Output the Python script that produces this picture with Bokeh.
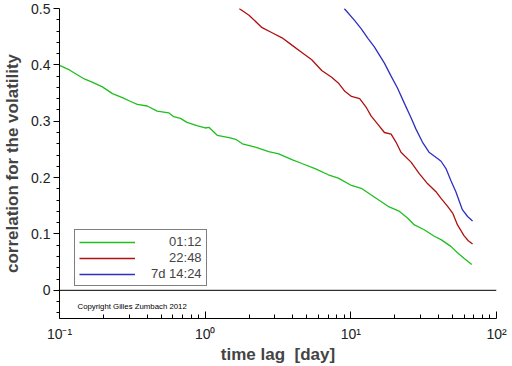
from bokeh.plotting import figure
from bokeh.models import FixedTicker, Span, Legend, LegendItem, Label
from bokeh.embed import file_html
from bokeh.resources import INLINE

# ---- data ----
green_x = [0.1, 0.117, 0.148, 0.169, 0.197, 0.231, 0.270, 0.308, 0.342, 0.400, 0.468,
           0.562, 0.608, 0.676, 0.750, 0.877, 1.0, 1.065, 1.21, 1.46, 1.62, 1.80, 2.21,
           2.73, 3.20, 3.94, 4.61, 5.68, 7.01, 8.20, 10.1, 11.8, 13.8, 16.2, 18.0, 21.6,
           24.6, 27.3, 31.9, 37.4, 41.6, 48.6, 54.0, 59.8, 67.6]
green_y = [0.399, 0.391, 0.375, 0.369, 0.361, 0.349, 0.342, 0.335, 0.330, 0.327, 0.318,
           0.315, 0.308, 0.305, 0.298, 0.292, 0.288, 0.289, 0.275, 0.271, 0.268, 0.260, 0.254,
           0.246, 0.242, 0.232, 0.225, 0.216, 0.205, 0.199, 0.186, 0.181, 0.169, 0.157, 0.149, 0.140,
           0.128, 0.116, 0.1075, 0.096, 0.090, 0.078, 0.0667, 0.0567, 0.046]

red_x = [1.71, 2.0, 2.46, 2.88, 3.37, 3.94, 4.61, 5.39, 6.31, 7.38, 8.20, 9.10, 10.1,
         11.5, 12.8, 13.8, 15.3, 17.0, 18.9, 20.4, 22.1, 25.9, 29.5, 33.7, 38.4, 41.6,
         46.2, 50.0, 54.0, 59.8, 64.0, 68.5]
red_y = [0.500, 0.488, 0.466, 0.457, 0.448, 0.435, 0.422, 0.409, 0.390, 0.378, 0.368, 0.353, 0.344,
         0.340, 0.324, 0.309, 0.295, 0.280, 0.277, 0.263, 0.245, 0.2275, 0.207, 0.189, 0.175, 0.163,
         0.149, 0.137, 0.116, 0.097, 0.088, 0.082]

blue_x = [9.01, 10.6, 11.8, 13.1, 14.5, 17.0, 18.9, 20.9, 23.2, 25.9, 28.0, 31.0, 34.4,
          39.8, 41.6, 45.0, 48.6, 52.6, 58.3, 63.3, 68.5]
blue_y = [0.500, 0.479, 0.464, 0.447, 0.432, 0.403, 0.380, 0.359, 0.333, 0.306, 0.286, 0.263, 0.245,
          0.233, 0.229, 0.216, 0.195, 0.175, 0.143, 0.131, 0.123]

series_labels = ["\u2007\u2007\u200801:12", "\u2007\u2007\u200822:48", "7d 14:24"]

x_ticks = [0.1, 1, 10, 100]
x_tick_labels = ["10\u207b\u00b9", "10\u2070", "10\u00b9", "10\u00b2"]
y_ticks = [0, 0.1, 0.2, 0.3, 0.4, 0.5]
y_tick_labels = ["0", "0.1", "0.2", "0.3", "0.4", "0.5"]

FONT = "Liberation Sans"

p = figure(width=512, height=366, x_axis_type="log", x_range=(0.1, 100), y_range=(-0.05, 0.5),
           output_backend="svg", toolbar_location=None,
           min_border_left=56, min_border_right=16, min_border_top=8, min_border_bottom=45)
p.outline_line_color = None
p.grid.visible = False
p.background_fill_color = "white"
p.border_fill_color = "white"

# x axis
xa = p.xaxis[0]
xa.ticker = FixedTicker(ticks=x_ticks,
                        minor_ticks=[m * d for d in (0.1, 1, 10) for m in range(2, 10)])
xa.major_label_overrides = {t: l for t, l in zip(x_ticks, x_tick_labels)}
xa.major_tick_in = 7
xa.major_tick_out = 0
xa.minor_tick_in = 4
xa.minor_tick_out = 0
xa.major_label_text_font = FONT
xa.major_label_text_font_size = "14px"
xa.major_label_text_color = "#222222"
xa.major_label_standoff = 7
xa.axis_label = "time lag \u00a0[day]"
xa.axis_label_text_font = FONT
xa.axis_label_text_font_size = "17px"
xa.axis_label_text_font_style = "bold"
xa.axis_label_standoff = 0
xa.axis_line_color = "black"

# y axis
ya = p.yaxis[0]
ya.ticker = FixedTicker(ticks=y_ticks,
                        minor_ticks=[-0.04, -0.02, 0.02, 0.04, 0.06, 0.08, 0.12, 0.14, 0.16, 0.18,
                                     0.22, 0.24, 0.26, 0.28, 0.32, 0.34, 0.36, 0.38,
                                     0.42, 0.44, 0.46, 0.48])
ya.major_label_overrides = {t: l for t, l in zip(y_ticks, y_tick_labels)}
ya.major_tick_out = 6
ya.major_tick_in = 0
ya.minor_tick_out = 3
ya.minor_tick_in = 0
ya.major_label_text_font = FONT
ya.major_label_text_font_size = "14px"
ya.major_label_text_color = "#222222"
ya.major_label_standoff = 3
ya.axis_label = "correlation for the volatility"
ya.axis_label_text_font = FONT
ya.axis_label_text_font_size = "17px"
ya.axis_label_text_font_style = "bold"
ya.axis_label_standoff = 6
ya.axis_line_color = "black"

p.add_layout(Span(location=0, dimension="width", line_color="black", line_width=1))

r1 = p.line(green_x, green_y, line_color="#1fbf1f", line_width=1.3)
r2 = p.line(red_x, red_y, line_color="#b01010", line_width=1.3)
r3 = p.line(blue_x, blue_y, line_color="#2f2fc0", line_width=1.3)

legend = Legend(items=[LegendItem(label=series_labels[0], renderers=[r1]),
                       LegendItem(label=series_labels[1], renderers=[r2]),
                       LegendItem(label=series_labels[2], renderers=[r3])],
                location=(15, 32), margin=0, padding=4, spacing=1,
                glyph_width=56, glyph_height=14, label_height=14, label_standoff=16,
                label_text_font=FONT, label_text_font_size="13px",
                border_line_color="black", border_line_width=1,
                background_fill_color="white", background_fill_alpha=1)
p.add_layout(legend, "center")

p.add_layout(Label(x=0.133, y=-0.029, text="Copyright Gilles Zumbach 2012",
                   text_font=FONT, text_font_size="7.8px", text_baseline="middle",
                   text_color="black"))

open("out.html", "w").write(file_html(p, INLINE))
